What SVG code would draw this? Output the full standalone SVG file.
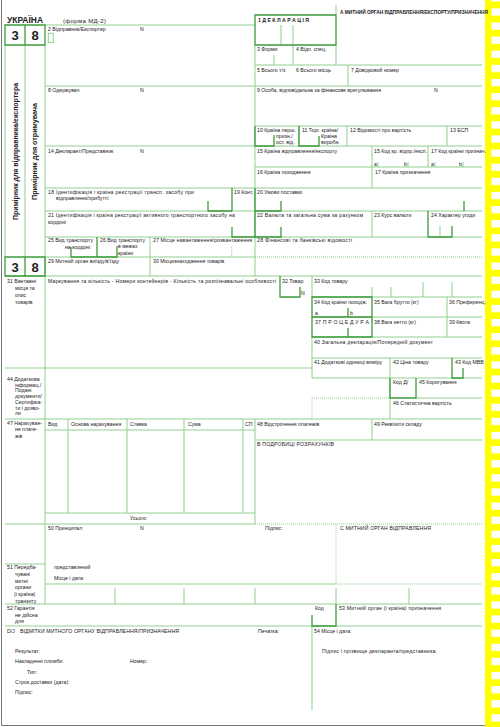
<svg xmlns="http://www.w3.org/2000/svg" width="500" height="727" viewBox="0 0 500 727">
<defs>
<style>
.l{stroke:#8fcf8f;stroke-width:1;fill:none}
.d{stroke:#3c9c3c;stroke-width:1.3;fill:none}
.o{stroke:#8fcf8f;stroke-width:1;fill:none;stroke-dasharray:1 1}
text{font-family:"Liberation Sans",Arial,sans-serif;font-size:5.2px;fill:#222}
.b{font-weight:bold}
.big{font-size:13px;font-weight:bold;text-anchor:middle}
.v{font-size:7px;font-weight:bold;text-anchor:middle}
</style>
<pattern id="perf" x="485" y="8.3" width="15" height="14.12" patternUnits="userSpaceOnUse"><rect x="6.5" y="0" width="8.5" height="7.3" fill="#fff"/></pattern>
</defs>
<rect width="500" height="727" fill="#fff"/>
<g id="strip">
<rect x="485" y="0" width="15" height="727" fill="#ff0"/>
<rect x="485" y="0" width="15" height="727" fill="url(#perf)"/>
</g>
<path d="M1.5 0V725.5H485" stroke="#777" stroke-width="1" fill="none"/>
<g id="connectors">
<path class="l" d="M45 25H255M255 65H482M45 86H482M255 126H482M45 146H482M255 167H482M45 188H482M45 211H482M45 237H482M45 257H255M5 276H482M312 297H482M312 317H482M312 337H482M312 358H482M5 368H312M312 378H482M416 398H482M5 419H482M45 430H255M255 440H482M45 513H255M5 524H255M5 564H45M45 584H336M5 604H482M5 626H482"/>
<path class="l" d="M5 45V257M25 45V257M45 45V604M255 45V276M255 419V524M336 5V15M336 45V65M293 45V65M274 55V65M281 25V45M293 25V45M348 65V86M299 126V146M347 126V146M447 126V146M372 146V188M428 146V167M378 162V167M408 162V167M435 162V167M463 162V167M372 211V237M440 226V237M150 237V276M312 276V297M312 337V378M372 287V297M391 287V297M423 282V297M452 282V297M447 297V337M390 358V419M68 419V513M127 419V513M184 419V513M243 419V513M372 419V440M115 588V604M184 588V604M255 588V604M336 588V604M409 588V604M312 626V710"/>
<path class="o" d="M255 257H482M312 398H390M312 398V419M255 524H482M336 524V584M336 584H482M231.7 247V257"/>
<rect x="48.3" y="33.3" width="5" height="9.3" class="l"/>
<path class="d" d="M5 25H45V45H5ZM25 25V45M5 257H45V276H5ZM25 257V276M255 15H336V45H255ZM255 126V146H274V135M299 126V146H319V136M208 201V211H232M232 188V211M255 188V237M255 211H281V201M464 201V211M232 227V237H281V227M428 211V237H452V226M97 237V257M71 247V257H117V246M280 276V297H300V287M312 297H372V337H312ZM312 317H372M348 308V317M348 328V337M452 358V378H463V368M390 378V398H416V378M312 615V626H336V604"/>
</g>
<g id="header">
<text x="7" y="23" class="b" style="font-size:8.5px" textLength="36" lengthAdjust="spacingAndGlyphs">УКРАЇНА</text>
<text x="63" y="23" style="font-size:6px" textLength="43">(форма МД-2)</text>
<text x="340" y="13.5" class="b" style="font-size:5px" textLength="148" lengthAdjust="spacingAndGlyphs">А МИТНИЙ ОРГАН ВІДПРАВЛЕННЯ/ЕКСПОРТУ/ПРИЗНАЧЕННЯ</text>
</g>
<g id="copy-labels">
<text x="15" y="39.5" class="big">3</text>
<text x="35" y="39.5" class="big">8</text>
<text x="15" y="271.8" class="big">3</text>
<text x="35" y="271.8" class="big">8</text>
<text class="v" transform="translate(18,151.5) rotate(-90)" textLength="137" lengthAdjust="spacingAndGlyphs">Примірник для відправника/експортера</text>
<text class="v" style="font-size:7.5px" transform="translate(36.5,151.5) rotate(-90)" textLength="97" lengthAdjust="spacingAndGlyphs">Примірник для отримувача</text>
</g>
<g id="box-1"><text x="258" y="21.5" class="b" textLength="51">1 Д Е К Л А Р А Ц І Я</text></g>
<g id="box-2"><text x="48" y="31">2 Відправник/Експортер</text><text x="140" y="31">N</text></g>
<g id="box-3"><text x="257" y="51">3 Форми</text></g>
<g id="box-4"><text x="296" y="51">4 Відп. спец.</text></g>
<g id="box-5"><text x="257" y="72">5 Всього т/з</text></g>
<g id="box-6"><text x="296" y="72">6 Всього місць</text></g>
<g id="box-7"><text x="351" y="72">7 Довідковий номер</text></g>
<g id="box-8"><text x="48" y="92">8 Одержувач</text><text x="140" y="92">N</text></g>
<g id="box-9"><text x="257" y="92" textLength="124">9 Особа, відповідальна за фінансове врегулювання</text><text x="434" y="92">N</text></g>
<g id="box-10"><text x="257" y="132">10 Країна перш.</text><text x="276" y="138">призн./</text><text x="276" y="144.3">ост. від.</text></g>
<g id="box-11"><text x="302" y="132">11 Торг. країна/</text><text x="321" y="138">Країна</text><text x="321" y="144.3">виробн.</text></g>
<g id="box-12"><text x="350" y="132">12 Відомості про вартість</text></g>
<g id="box-13"><text x="450" y="132">13 ЕСП</text></g>
<g id="box-14"><text x="48" y="152.5">14 Декларант/Представник</text><text x="140" y="152.5">N</text></g>
<g id="box-15"><text x="257" y="152.5">15 Країна відправлення/експорту</text></g>
<g id="box-15a"><text x="374" y="152.5">15 Код кр. відпр./експ.</text><text x="374" y="165.5">a</text><text x="404" y="165.5">b</text></g>
<g id="box-17a"><text x="431" y="152.5">17 Код країни признач.</text><text x="431" y="165.5">a</text><text x="459" y="165.5">b</text></g>
<g id="box-16"><text x="257" y="173.5">16 Країна походження</text></g>
<g id="box-17"><text x="375" y="173.5">17 Країна призначення</text></g>
<g id="box-18"><text x="48" y="193.5" textLength="146">18 Ідентифікація і країна реєстрації трансп. засобу при</text><text x="56" y="199.5">відправленні/прибутті</text></g>
<g id="box-19"><text x="234" y="193.5">19 Конт.</text></g>
<g id="box-20"><text x="257" y="193.5">20 Умови поставки</text></g>
<g id="box-21"><text x="48" y="217" textLength="187">21 Ідентифікація і країна реєстрації активного транспортного засобу на</text><text x="48" y="223.5">кордоні</text></g>
<g id="box-22"><text x="257" y="217" textLength="106">22 Валюта та загальна сума за рахунком</text></g>
<g id="box-23"><text x="374" y="217">23 Курс валюти</text></g>
<g id="box-24"><text x="431" y="217">24 Характер угоди</text></g>
<g id="box-25"><text x="48" y="241.5">25 Вид транспорту</text><text x="65" y="248.7">на кордоні</text></g>
<g id="box-26"><text x="100" y="241.5">26 Вид транспорту</text><text x="118" y="248.3">в межах</text><text x="118" y="255">країни</text></g>
<g id="box-27"><text x="153" y="241.5" textLength="99">27 Місце навантаження/розвантаження</text></g>
<g id="box-28"><text x="257" y="241.5" textLength="95">28 Фінансові та банківські відомості</text></g>
<g id="box-29"><text x="48" y="262.8">29 Митний орган виїзду/в'їзду</text></g>
<g id="box-30"><text x="153" y="262.8">30 Місцезнаходження товарів</text></g>
<g id="box-31"><text x="7" y="283">31 Вантажні</text><text x="15" y="290">місця та</text><text x="15" y="296.7">опис</text><text x="15" y="303.5">товарів</text>
<text x="48" y="283" textLength="228">Маркування та кількість - Номери контейнерів - Кількість та розпізнавальні особливості</text></g>
<g id="box-32"><text x="282" y="283">32 Товар</text><text x="301" y="295">N</text></g>
<g id="box-33"><text x="314" y="283">33 Код товару</text></g>
<g id="box-34"><text x="314" y="304">34 Код країни походж.</text><text x="315" y="314.5">a</text><text x="350" y="314.5">b</text></g>
<g id="box-35"><text x="374" y="304">35 Вага брутто (кг)</text></g>
<g id="box-36"><text x="449" y="304">36 Преференц.</text></g>
<g id="box-37"><text x="315" y="323.5" textLength="54">37 П Р О Ц Е Д У Р А</text></g>
<g id="box-38"><text x="374" y="323.5">38 Вага нетто (кг)</text></g>
<g id="box-39"><text x="449" y="323.5">39 Квота</text></g>
<g id="box-40"><text x="314" y="343.5" textLength="119">40 Загальна декларація/Попередній документ</text></g>
<g id="box-41"><text x="314" y="364">41 Додаткові одиниці виміру</text></g>
<g id="box-42"><text x="393" y="364">42 Ціна товару</text></g>
<g id="box-43"><text x="455" y="364">43 Код МВВ</text></g>
<g id="box-44"><text x="7" y="381">44 Додаткова</text><text x="15" y="386.7">інформац./</text><text x="15" y="392.4">Подані</text><text x="15" y="398.1">документи/</text><text x="15" y="403.8">Сертифіка-</text><text x="15" y="409.5">ти і дозво-</text><text x="15" y="415.2">ли</text></g>
<g id="box-kod-d"><text x="393" y="384">Код Д/</text></g>
<g id="box-45"><text x="419" y="384">45 Коригування</text></g>
<g id="box-46"><text x="393" y="404.5">46 Статистична вартість</text></g>
<g id="box-47"><text x="7" y="425">47 Нарахуван-</text><text x="15" y="431.3">ня плате-</text><text x="15" y="437.7">жів</text>
<text x="48" y="425.8">Вид</text><text x="71" y="425.8">Основа нарахування</text><text x="130" y="425.8">Ставка</text><text x="188" y="425.8">Сума</text><text x="245" y="425.8">СП</text>
<text x="130" y="519.5">Усього:</text></g>
<g id="box-48"><text x="257" y="425.8">48 Відстрочення платежів</text></g>
<g id="box-49"><text x="374" y="425.8">49 Реквізити складу</text></g>
<g id="box-B"><text x="257" y="446" textLength="77">В ПОДРОБИЦІ РОЗРАХУНКІВ</text></g>
<g id="box-50"><text x="48" y="530">50 Принципал</text><text x="140" y="530">N</text><text x="265" y="530">Підпис:</text>
<text x="54" y="569">представлений</text><text x="54" y="580">Місце і дата:</text></g>
<g id="box-C"><text x="340" y="530" textLength="91">С МИТНИЙ ОРГАН ВІДПРАВЛЕННЯ</text></g>
<g id="box-51"><text x="7" y="568.5">51 Передба-</text><text x="15" y="575.8">чувані</text><text x="15" y="582.5">митні</text><text x="15" y="589.2">органи</text><text x="14" y="595.8">(і країна)</text><text x="15" y="603">транзиту</text></g>
<g id="box-52"><text x="7" y="609.5">52 Гарантія</text><text x="15" y="616.6">не дійсна</text><text x="15" y="623.3">для</text><text x="315" y="610">Код</text></g>
<g id="box-53"><text x="339" y="610" textLength="102">53 Митний орган (і країна) призначення</text></g>
<g id="box-D"><text x="7" y="632.5">D/J</text><text x="20" y="632.5" textLength="159">ВІДМІТКИ МИТНОГО ОРГАНУ ВІДПРАВЛЕННЯ/ПРИЗНАЧЕННЯ</text>
<text x="258" y="632.5">Печатка:</text>
<text x="15" y="652.5">Результат:</text><text x="15" y="662.8">Накладенні пломби:</text><text x="130" y="662.8">Номер:</text><text x="27" y="673.5">Тип:</text><text x="15" y="684">Строк доставки (дата):</text><text x="15" y="694">Підпис:</text></g>
<g id="box-54"><text x="314" y="632.5">54 Місце і дата:</text><text x="322" y="652.5" textLength="115">Підпис і прізвище декларанта/представника:</text></g>
</svg>
